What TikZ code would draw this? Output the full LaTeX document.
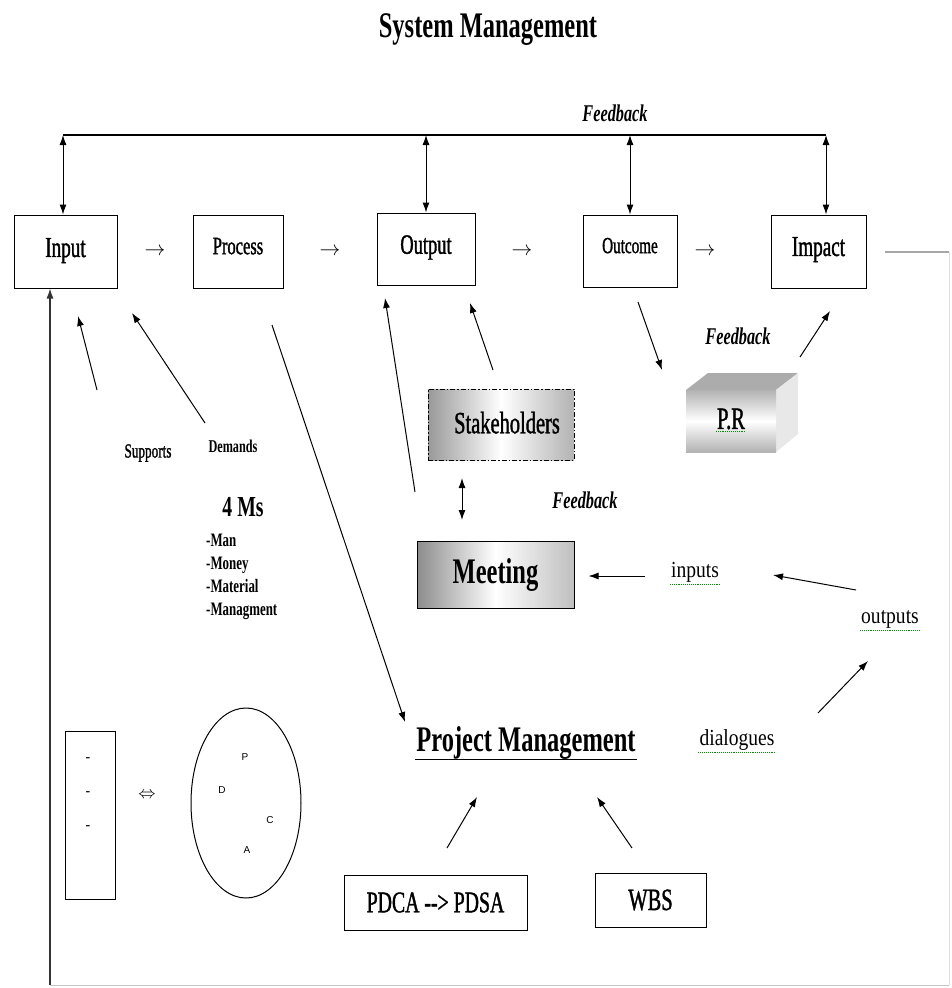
\documentclass[tikz,border=0pt]{standalone}
\usepackage{fontspec}
\setmainfont{Liberation Serif}
\newfontfamily\cf[FakeStretch=0.68]{Liberation Serif}
\newfontfamily\cfh[FakeStretch=0.66,FakeBold=1.2]{Liberation Serif}
\newfontfamily\cfn[FakeStretch=0.85]{Liberation Serif}
\newfontfamily\sff{Liberation Sans}
\usetikzlibrary{arrows.meta,shapes.geometric}
\newcommand\fs[1]{\fontsize{#1}{#1}\selectfont}
\begin{document}
\begin{tikzpicture}[x=1pt,y=-1pt,
  box/.style={draw, line width=1pt, inner sep=0pt},
  arr/.style={line width=1pt,-{Latex[length=10pt,width=7pt]}},
  darr/.style={line width=1pt,{Latex[length=10pt,width=7pt]}-{Latex[length=10pt,width=7pt]}},
  lbl/.style={inner sep=1pt},
  spell/.style={green!55!black, densely dotted, line width=0.9pt},
  fbtxt/.style={inner sep=1pt, font=\cf\fs{24}\bfseries\itshape},
]
\useasboundingbox (0,0) rectangle (952,988);
\fill[white] (0,0) rectangle (952,988);

% title
\node[lbl, font=\cf\fs{36}\bfseries] (title) at (488,30) {System Management};

% top feedback
\node[fbtxt] (fbtop) at (615,113) {Feedback};
\coordinate (fbL) at (63,135);
\coordinate (fbR) at (826,135);
\draw[line width=1.2pt] (fbL) -- (fbR);

% main boxes
\node[box, minimum width=103, minimum height=73, font=\cfh\fs{29}] (in) at (65.5,251.5) {\raisebox{8pt}{Input}};
\node[box, minimum width=90, minimum height=73, font=\cfh\fs{25}] (proc) at (238,251.5) {\raisebox{11pt}{Process}};
\node[box, minimum width=98, minimum height=72, font=\cfh\fs{28}] (out) at (426,249) {\raisebox{9pt}{Output}};
\node[box, minimum width=94, minimum height=72, font=\cfh\fs{23}] (outc) at (630,251) {\raisebox{11pt}{Outcome}};
\node[box, minimum width=95, minimum height=73, font=\cfh\fs{29}] (imp) at (818.5,251.5) {\raisebox{10pt}{Impact}};

\foreach \x/\n in {155/a1,330/a2,522/a3,705/a4}
  \node[lbl, font=\fs{22}] (\n) at (\x,252) {$\rightarrow$};

\draw[darr] (in.north -| fbL) -- (fbL);
\draw[darr] (out.north) -- (out.north |- fbL);
\draw[darr] (outc.north) -- (outc.north |- fbL);
\draw[darr] (imp.north -| fbR) -- (fbR);

% outer loop
\coordinate (r1) at (885,252);
\coordinate (r2) at (949,252);
\coordinate (r3) at (949,985);
\coordinate (r4) at (50,985);
\draw[gray!70, line width=1.5pt] (r1) -- (r2);
\draw[gray!25, line width=1pt] (r2) -- (r3);
\draw[gray!45, line width=1pt] (r3) -- (r4);
\draw[line width=1.3pt, gray!40!black, -{Latex[length=10pt,width=7pt]}] (r4) -- (r4 |- in.south);

% supports / demands
\coordinate (supT) at (97,390);
\coordinate (supH) at (78,316);
\draw[arr] (supT) -- (supH);
\coordinate (demT) at (205,423);
\coordinate (demH) at (132,313);
\draw[arr] (demT) -- (demH);
\node[lbl, font=\cfh\fs{20}] (sup) at (148,453) {Supports};
\node[lbl, font=\cf\fs{18}\bfseries] (dem) at (233,446) {Demands};
\node[lbl, font=\cf\fs{29}\bfseries] (fourms) at (243,507) {4 Ms};
\node[lbl, font=\cf\fs{19}\bfseries, anchor=west, align=left] (mlist) at (205,577)
  {-Man\\[4pt]-Money\\[4pt]-Material\\[4pt]-Managment};

% process -> project management
\coordinate (procT) at (272,325);
\coordinate (pmH) at (405,722);
\draw[arr] (procT) -- (pmH);

% stakeholders
\node[box, dash pattern=on 5pt off 2pt on 1.5pt off 2pt, minimum width=146, minimum height=71,
  left color=gray!80, right color=gray!60, middle color=white, font=\cfh\fs{31}] (stk) at (501,424.5) {\raisebox{4pt}{\hspace{12pt}Stakeholders}};
% meeting
\node[box, minimum width=157, minimum height=67,
  left color=gray!90, right color=gray!50, middle color=white, font=\cf\fs{36}\bfseries] (meet) at (495.5,574.5) {Meeting};

\coordinate (moT) at (415,492);
\coordinate (moH) at (385,298);
\draw[arr] (moT) -- (moH);
\coordinate (soT) at (493,370);
\coordinate (soH) at (470,303);
\draw[arr] (soT) -- (soH);
\coordinate (smA) at (462,478);
\coordinate (smB) at (462,520);
\draw[darr] (smA) -- (smB);
\node[fbtxt] (fbmid) at (585,500) {Feedback};

% P.R cuboid
\coordinate (pf1) at (686,390);
\coordinate (pf2) at (776,390);
\coordinate (pf3) at (776,452);
\coordinate (pf4) at (686,452);
\coordinate (pt1) at (708,373);
\coordinate (pt2) at (798,373);
\coordinate (pr3) at (798,434);
\fill[gray!65] (pf1) -- (pt1) -- (pt2) -- (pf2) -- cycle;
\fill[gray!18] (pf2) -- (pt2) -- (pr3) -- (pf3) -- cycle;
\shade[top color=gray!60, bottom color=gray!60, middle color=white] (pf1) rectangle (pf3);
\node[lbl, font=\cfh\fs{31}] (pr) at (731,419) {P.R};
\draw[spell] ([yshift=-1pt]pr.south west) -- ([yshift=-1pt]pr.south east);

\coordinate (ocT) at (638,302);
\coordinate (ocH) at (662,370);
\draw[arr] (ocT) -- (ocH);
\node[fbtxt] (fbpr) at (738,336) {Feedback};
\coordinate (piT) at (800,357);
\coordinate (piH) at (830,311);
\draw[arr] (piT) -- (piH);

% inputs / outputs / dialogues
\node[lbl, font=\cfn\fs{23}] (inps) at (695,572) {inputs};
\draw[spell] ([yshift=-1pt]inps.south west) -- ([yshift=-1pt]inps.south east);
\coordinate (iT) at (645,576);
\draw[arr] (iT) -- ([xshift=14pt]iT -| meet.east);
\node[lbl, font=\cfn\fs{23}] (outs) at (890,619) {outputs};
\draw[spell] ([yshift=-1pt]outs.south west) -- ([yshift=-1pt]outs.south east);
\coordinate (ooT) at (856,590);
\coordinate (ooH) at (773,575);
\draw[arr] (ooT) -- (ooH);
\node[lbl, font=\cfn\fs{23}] (dial) at (737,740) {dialogues};
\draw[spell] ([yshift=-1pt]dial.south west) -- ([yshift=-1pt]dial.south east);
\coordinate (doT) at (818,713);
\coordinate (doH) at (868,661);
\draw[arr] (doT) -- (doH);

% project management
\node[lbl, font=\cf\fs{36}\bfseries] (pm) at (526,743) {Project Management};
\draw[line width=1.2pt] ([yshift=1pt]pm.south west) -- ([yshift=1pt]pm.south east);

\node[box, minimum width=183, minimum height=55, font=\cfh\fs{30}] (pdca) at (435.5,902.5) {PDCA --> PDSA};
\node[box, minimum width=111, minimum height=54, font=\cfh\fs{31}] (wbs) at (650.5,900) {WBS};
\coordinate (pdT) at (447,848);
\coordinate (pdH) at (477,797);
\draw[arr] (pdT) -- (pdH);
\coordinate (wbT) at (632,848);
\coordinate (wbH) at (597,797);
\draw[arr] (wbT) -- (wbH);

% left box, arrow and ellipse
\node[box, minimum width=50, minimum height=168] (lbox) at (90,815) {};
\foreach \y/\n in {760/d1,794/d2,828/d3}
  \node[lbl, font=\fs{14}\bfseries] (\n) at (88,\y) {-};
\node[lbl, font=\fs{18}] (iff) at (147,795) {$\Leftrightarrow$};
\node[draw, line width=1pt, ellipse, minimum width=110, minimum height=190, inner sep=0pt] (ell) at (246,803) {};
\node[lbl, font=\sff\fs{10}] (lp) at (245,757) {P};
\node[lbl, font=\sff\fs{10}] (ld) at (222,790) {D};
\node[lbl, font=\sff\fs{10}] (lc) at (270,820) {C};
\node[lbl, font=\sff\fs{10}] (la) at (247,850) {A};
\end{tikzpicture}
\end{document}
